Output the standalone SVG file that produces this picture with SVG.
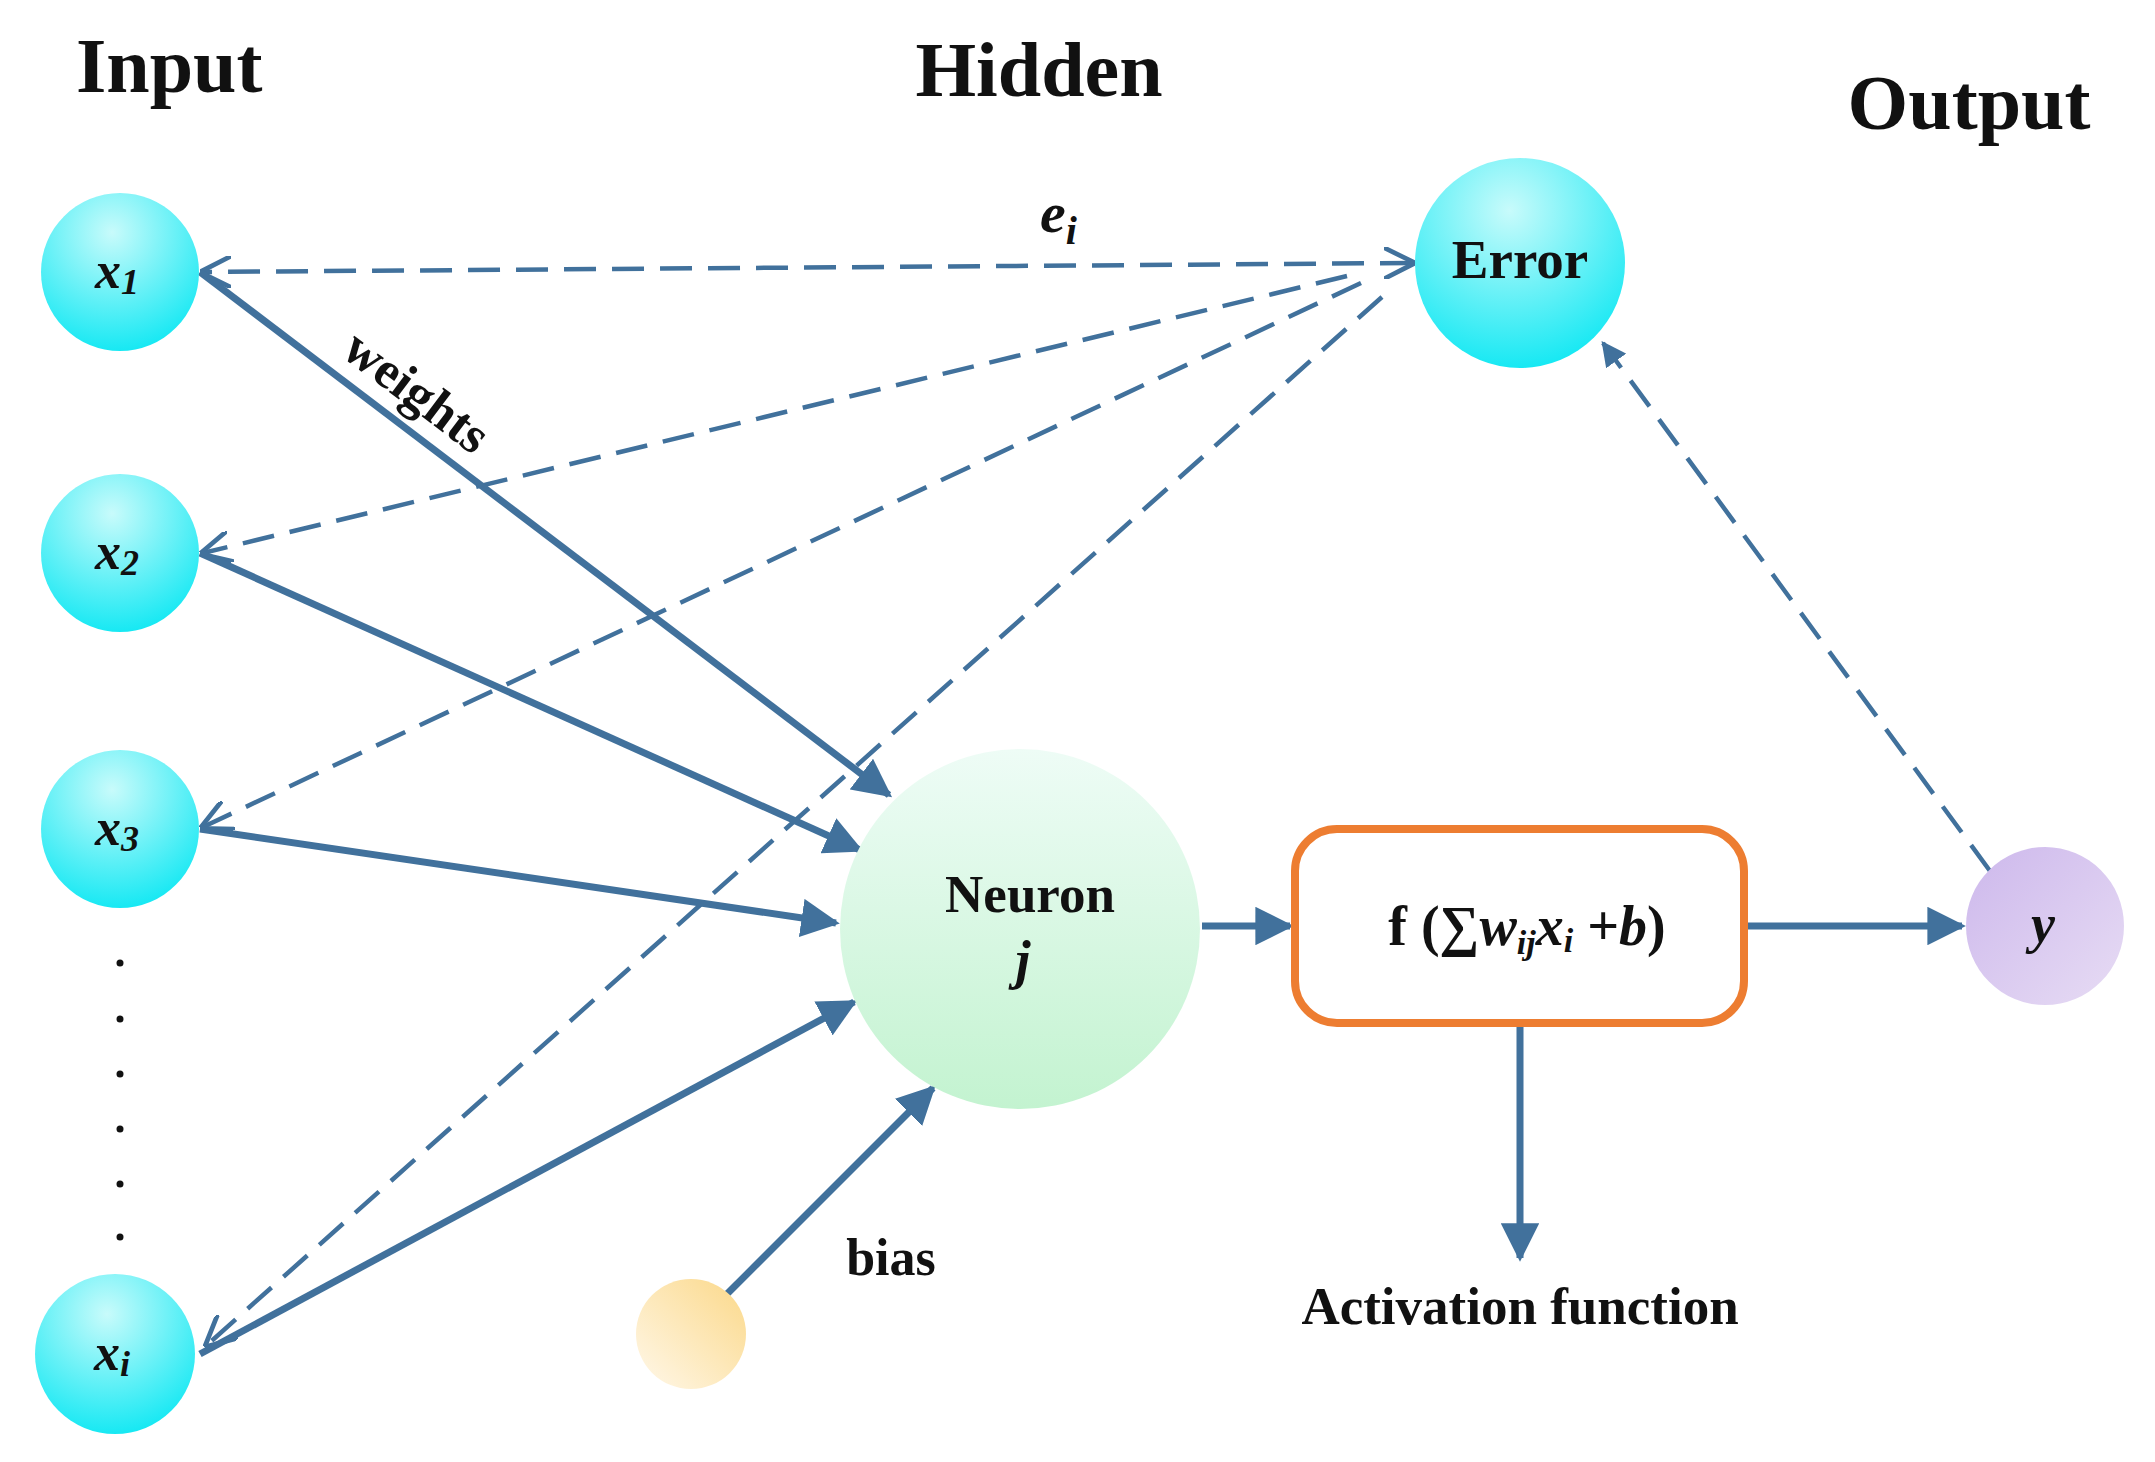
<svg xmlns="http://www.w3.org/2000/svg" width="2155" height="1462" viewBox="0 0 2155 1462">
<style>
.t{font-family:"Liberation Serif",serif;font-weight:bold;fill:#111}
.sol{stroke:#41719c;stroke-width:7;fill:none}
.dash{stroke:#41719c;stroke-width:4.5;fill:none;stroke-dasharray:32 16}
</style>
<defs>
<radialGradient id="cy" cx="0.45" cy="0.25" r="0.85"><stop offset="0" stop-color="#c8fbfb"/><stop offset="1" stop-color="#00e6f2"/></radialGradient>
<linearGradient id="gr" x1="0" y1="0" x2="0" y2="1"><stop offset="0" stop-color="#eefcf6"/><stop offset="1" stop-color="#c3f3d0"/></linearGradient>
<linearGradient id="pu" x1="0" y1="0" x2="1" y2="1"><stop offset="0" stop-color="#cdb8ec"/><stop offset="1" stop-color="#e7dcf4"/></linearGradient>
<linearGradient id="ye" x1="1" y1="0" x2="0" y2="1"><stop offset="0" stop-color="#fbd889"/><stop offset="1" stop-color="#fff8ea"/></linearGradient>
<marker id="a" viewBox="0 0 10 10" refX="9" refY="5" markerWidth="5.5" markerHeight="5.5" orient="auto-start-reverse" markerUnits="strokeWidth"><path d="M0,0 L10,5 L0,10 Z" fill="#41719c"/></marker>
<marker id="o" viewBox="0 0 10 10" refX="9" refY="5" markerWidth="7" markerHeight="7" orient="auto-start-reverse" markerUnits="strokeWidth"><path d="M0,0 L10,5 L0,10" fill="none" stroke="#41719c" stroke-width="1.5"/></marker>
</defs>
<rect width="2155" height="1462" fill="#fff"/>
<text class="t" x="76" y="92" font-size="78">Input</text>
<text class="t" x="1039" y="96" font-size="78" text-anchor="middle">Hidden</text>
<text class="t" x="1969" y="129" font-size="78" text-anchor="middle">Output</text>
<g id="connectors">
<line class="dash" x1="1412" y1="263" x2="203" y2="272" marker-start="url(#o)" marker-end="url(#o)"/>
<line class="dash" x1="1347" y1="276" x2="203" y2="553" marker-end="url(#o)"/>
<line class="dash" x1="1361" y1="283" x2="203" y2="827" marker-end="url(#o)"/>
<line class="dash" x1="1382" y1="297" x2="207" y2="1345" marker-end="url(#o)"/>
<line class="dash" x1="1990" y1="871" x2="1603" y2="343" marker-end="url(#a)"/>
<line class="sol" x1="200" y1="272" x2="889" y2="795" marker-end="url(#a)"/>
<line class="sol" x1="200" y1="553" x2="860" y2="850" marker-end="url(#a)"/>
<line class="sol" x1="200" y1="829" x2="836" y2="923" marker-end="url(#a)"/>
<line class="sol" x1="200" y1="1354" x2="854" y2="1002" marker-end="url(#a)"/>
<line class="sol" x1="726" y1="1295" x2="933" y2="1088" marker-end="url(#a)"/>
<line class="sol" x1="1202" y1="926" x2="1290" y2="926" marker-end="url(#a)"/>
<line class="sol" x1="1748" y1="926" x2="1962" y2="926" marker-end="url(#a)"/>
<line class="sol" x1="1520" y1="1023" x2="1520" y2="1258" marker-end="url(#a)"/>
<text class="t" x="1040" y="232" font-size="58" font-style="italic">e<tspan font-size="40" dy="12">i</tspan></text>
<text class="t" x="415" y="408" font-size="52" text-anchor="middle" transform="rotate(37 415 394)">weights</text>
<text class="t" x="891" y="1275" font-size="52" text-anchor="middle">bias</text>
<text class="t" x="1520" y="1324" font-size="53" text-anchor="middle">Activation function</text>
</g>
<g id="x1"><circle cx="120" cy="272" r="79" fill="url(#cy)"/><text class="t" x="117" y="288" font-size="52" font-style="italic" text-anchor="middle">x<tspan font-size="36" dy="6">1</tspan></text></g>
<g id="x2"><circle cx="120" cy="553" r="79" fill="url(#cy)"/><text class="t" x="117" y="569" font-size="52" font-style="italic" text-anchor="middle">x<tspan font-size="36" dy="6">2</tspan></text></g>
<g id="x3"><circle cx="120" cy="829" r="79" fill="url(#cy)"/><text class="t" x="117" y="845" font-size="52" font-style="italic" text-anchor="middle">x<tspan font-size="36" dy="6">3</tspan></text></g>
<g id="dots" fill="#111"><circle cx="120" cy="963" r="3.5"/><circle cx="120" cy="1019" r="3.5"/><circle cx="120" cy="1074" r="3.5"/><circle cx="120" cy="1129" r="3.5"/><circle cx="120" cy="1184" r="3.5"/><circle cx="120" cy="1237" r="3.5"/></g>
<g id="xi"><circle cx="115" cy="1354" r="80" fill="url(#cy)"/><text class="t" x="112" y="1370" font-size="52" font-style="italic" text-anchor="middle">x<tspan font-size="36" dy="6">i</tspan></text></g>
<g id="error"><circle cx="1520" cy="263" r="105" fill="url(#cy)"/><text class="t" x="1520" y="278" font-size="55" text-anchor="middle">Error</text></g>
<g id="neuron"><circle cx="1020" cy="929" r="180" fill="url(#gr)"/><text class="t" x="1030" y="912" font-size="53" text-anchor="middle">Neuron</text><text class="t" x="1023" y="978" font-size="54" font-style="italic" text-anchor="middle">j</text></g>
<g id="bias"><circle cx="691" cy="1334" r="55" fill="url(#ye)"/></g>
<g id="func"><rect x="1295" y="829" width="449" height="194" rx="42" fill="#fff" stroke="#ed7d31" stroke-width="8"/><text class="t" x="1527" y="945" font-size="56" text-anchor="middle">f (∑<tspan font-style="italic">w<tspan font-size="34" dy="9">ij</tspan><tspan dy="-9">x</tspan><tspan font-size="34" dy="7">i</tspan><tspan dy="-7" font-style="normal"> +</tspan>b</tspan>)</text></g>
<g id="y"><circle cx="2045" cy="926" r="79" fill="url(#pu)"/><text class="t" x="2043" y="942" font-size="54" font-style="italic" text-anchor="middle">y</text></g>
</svg>
